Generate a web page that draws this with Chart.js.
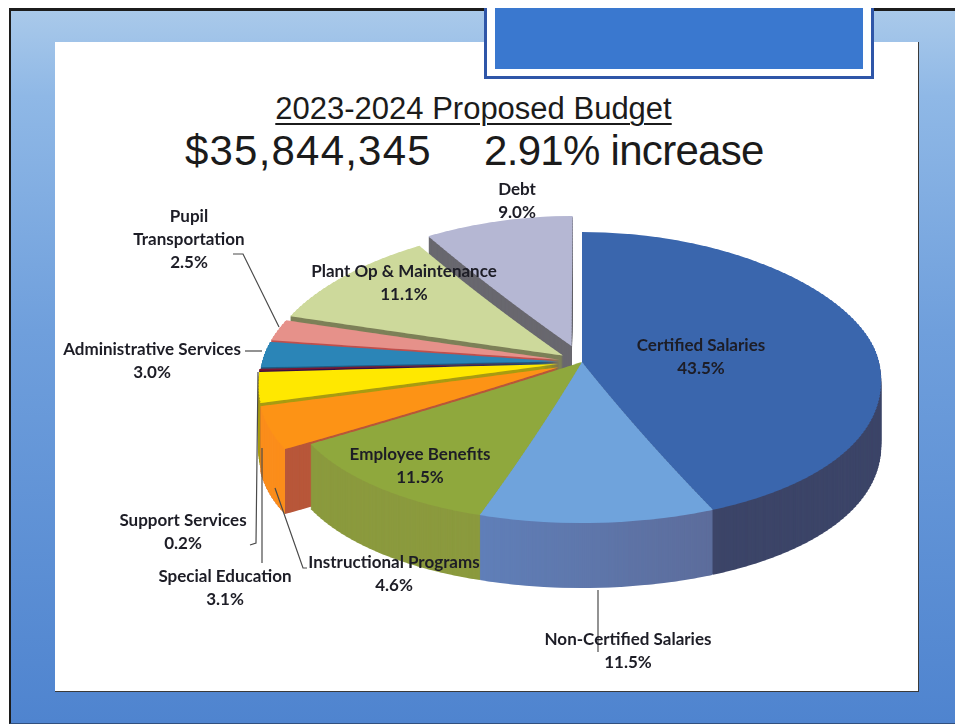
<!DOCTYPE html>
<html>
<head>
<meta charset="utf-8">
<title>2023-2024 Proposed Budget</title>
<script src="https://cdn.jsdelivr.net/npm/chart.js@4"></script>
<style>
  html, body { margin: 0; padding: 0; background: #fff; }
  #slide { position: relative; width: 955px; height: 724px; overflow: hidden; background: #fff; }
  #frame {
    position: absolute; left: 9px; top: 8px; width: 946px; height: 716px; box-sizing: border-box;
    border-left: 2px solid #1c1c1c; border-top: 3px solid #1c1c1c; border-bottom: 1px solid #30507f;
    background: linear-gradient(180deg, #a9c9ea 0%, #8fb8e6 12%, #6f9fdc 45%, #4f84cf 100%);
  }
  #panel {
    position: absolute; left: 55px; top: 42px; width: 864px; height: 650px; box-sizing: border-box;
    background: #fff; border-right: 1px solid #3a3a3a; border-bottom: 1px solid #3a3a3a;
  }
  #box {
    position: absolute; left: 484px; top: 8px; width: 390px; height: 71px; box-sizing: border-box;
    background: #3a78cf; border: 3px solid #2f56a8; border-top: 0;
    box-shadow: inset 0 -7px 0 #fff, inset 8px 0 0 #fff, inset -8px 0 0 #fff;
  }
  #title {
    position: absolute; left: 275px; top: 91px; width: 397px; text-align: center; white-space: nowrap;
    font: 31px "Liberation Sans", Arial, sans-serif; color: #1b1b1b; text-decoration: underline;
    text-decoration-thickness: 2px; text-underline-offset: 4px;
  }
  .sub {
    position: absolute; top: 127px; white-space: nowrap;
    font: 42px "Liberation Sans", Arial, sans-serif; color: #1b1b1b;
  }
  #amount { left: 185px; letter-spacing: 1.2px; }
  #increase { left: 484px; letter-spacing: -0.7px; }
  canvas { position: absolute; left: 0; top: 0; }
</style>
</head>
<body>
<div id="slide">
  <div id="frame"></div>
  <div id="panel"></div>
  <div id="box"></div>
  <div id="title">2023-2024 Proposed Budget</div>
  <div class="sub" id="amount">$35,844,345</div>
  <div class="sub" id="increase">2.91% increase</div>
  <canvas id="budget" width="955" height="724"></canvas>
</div>
<script>
const categories = [
  'Certified Salaries', 'Non-Certified Salaries', 'Employee Benefits', 'Instructional Programs',
  'Special Education', 'Support Services', 'Administrative Services', 'Pupil Transportation',
  'Plant Op & Maintenance', 'Debt'
]
const budgetShare = [43.5, 11.5, 11.5, 4.6, 3.1, 0.2, 3.0, 2.5, 11.1, 9.0]

// styling, one entry per slice
const topColors = ['#3a66ad', '#6fa3dc', '#8fa83d', '#fd9315', '#ffe800', '#7a1830', '#2b85b7', '#e6918a', '#cdd99b', '#b5b7d3']
const wallColors = ['#3c4568', '#5f7bb1', '#8b9a3e', '#b8573a', '#a89c12', '#3a0d40', '#1d5f86', '#c0504d', '#7d8058', '#69686f']
const explode = [0, 0, 0, 25, 24, 24, 23, 23, 24, 38]

const PIE_RADIUS = 297
const BACK_DEPTH = 130   // apparent radius behind the centre
const FRONT_DEPTH = 161  // apparent radius in front of the centre
const WALL_HEIGHT = 65
const PERSPECTIVE = 0.00075
const BAND = 3

const labelSpots = [
  { x: 701, y: 346 }, { x: 628, y: 640 }, { x: 420, y: 455 }, { x: 394, y: 563 }, { x: 225, y: 577 },
  { x: 183, y: 521 }, { x: 152, y: 350 }, { x: 189, y: 217, wrap: true }, { x: 404, y: 272 }, { x: 517, y: 190 }
]
const leaders = [
  [[233, 254], [243, 254], [279, 327]],
  [[245, 351], [262, 351]],
  [[250, 545], [256, 543], [258, 372]],
  [[262, 448], [262, 563]],
  [[275, 488], [303, 568], [307, 568]],
  [[598, 590], [598, 652]]
]

// paints a flat arc through horizontal bands, each squashed and narrowed for the tilted view
const inView = (ctx, cx, cy, paint) => {
  for (let y = 150; y < 560; y += BAND) {
    const depth = y < cy ? BACK_DEPTH : FRONT_DEPTH
    ctx.save()
    ctx.beginPath()
    ctx.rect(0, y, 955, BAND + 0.5)
    ctx.clip()
    ctx.translate(cx, cy)
    ctx.scale(1 + PERSPECTIVE * (y + BAND / 2 - cy), depth / PIE_RADIUS)
    ctx.translate(-cx, -cy)
    paint()
    ctx.restore()
  }
}

const paintArc = (ctx, arc, i, color) => {
  const mid = (arc.startAngle + arc.endAngle) / 2
  const saved = arc.options
  ctx.save()
  ctx.translate(Math.cos(mid) * explode[i], Math.sin(mid) * explode[i])
  arc.options = { ...saved, backgroundColor: color, borderWidth: 0 }
  arc.draw(ctx)
  arc.options = saved
  ctx.restore()
}

const sliceLayer = (chart, arc, i, color) => {
  const layer = document.createElement('canvas')
  layer.width = chart.width
  layer.height = chart.height
  const lctx = layer.getContext('2d')
  inView(lctx, arc.x, arc.y, () => paintArc(lctx, arc, i, color))
  return layer
}

const tiltedPie = {
  id: 'tiltedPie',
  beforeDatasetsDraw(chart) {
    const ctx = chart.ctx
    const arcs = chart.getDatasetMeta(0).data
    const { x: cx, y: cy } = arcs[0]

    const noncertWall = ctx.createLinearGradient(480, 0, 715, 0)
    noncertWall.addColorStop(0, '#6080ba')
    noncertWall.addColorStop(1, '#5c6b99')
    const walls = wallColors.slice()
    walls[1] = noncertWall

    // far slices first so nearer walls sit on top of them
    const midSin = a => Math.sin((a.startAngle + a.endAngle) / 2)
    const order = arcs.map((a, i) => i).sort((p, q) => midSin(arcs[p]) - midSin(arcs[q]))

    order.forEach(i => {
      const layer = sliceLayer(chart, arcs[i], i, walls[i])
      for (let drop = WALL_HEIGHT; drop > 0; drop--) ctx.drawImage(layer, 0, drop)
    })

    // the orange slice is pulled out: its rim is orange, only the cut face is brick
    const orange = arcs[3]
    const mid = (orange.startAngle + orange.endAngle) / 2
    const flatY = Math.sin(mid) * explode[3] + Math.sin(orange.startAngle) * orange.outerRadius
    const flatX = Math.cos(mid) * explode[3] + Math.cos(orange.startAngle) * orange.outerRadius
    const cornerX = cx + flatX * (1 + PERSPECTIVE * flatY * FRONT_DEPTH / PIE_RADIUS)
    const rim = sliceLayer(chart, orange, 3, '#fb8e1c')
    ctx.save()
    ctx.beginPath()
    ctx.rect(0, 0, cornerX, 724)
    ctx.clip()
    for (let drop = WALL_HEIGHT; drop > 0; drop--) ctx.drawImage(rim, 0, drop)
    ctx.restore()

    order.forEach(i => ctx.drawImage(sliceLayer(chart, arcs[i], i, topColors[i]), 0, 0))
    return false
  },
  afterDraw(chart) {
    const ctx = chart.ctx
    ctx.save()
    ctx.strokeStyle = '#4a4a4a'
    ctx.lineWidth = 1.2
    leaders.forEach(line => {
      ctx.beginPath()
      line.forEach(([x, y], n) => (n ? ctx.lineTo(x, y) : ctx.moveTo(x, y)))
      ctx.stroke()
    })
    ctx.fillStyle = '#1d1d26'
    ctx.font = 'bold 17px Lato, sans-serif'
    ctx.textAlign = 'center'
    ctx.textBaseline = 'middle'
    categories.forEach((name, i) => {
      const spot = labelSpots[i]
      const lines = spot.wrap ? name.split(' ') : [name]
      lines.push(budgetShare[i].toFixed(1) + '%')
      lines.forEach((text, n) => ctx.fillText(text, spot.x, spot.y + n * 23))
    })
    ctx.restore()
  }
}

new Chart(document.getElementById('budget').getContext('2d'), {
  type: 'pie',
  data: {
    labels: categories,
    datasets: [{ data: budgetShare, backgroundColor: topColors, borderWidth: 0 }]
  },
  options: {
    responsive: false,
    animation: false,
    radius: PIE_RADIUS,
    layout: { padding: { left: 209 } },
    plugins: { legend: { display: false }, tooltip: { enabled: false } }
  },
  plugins: [tiltedPie]
})
</script>
</body>
</html>
